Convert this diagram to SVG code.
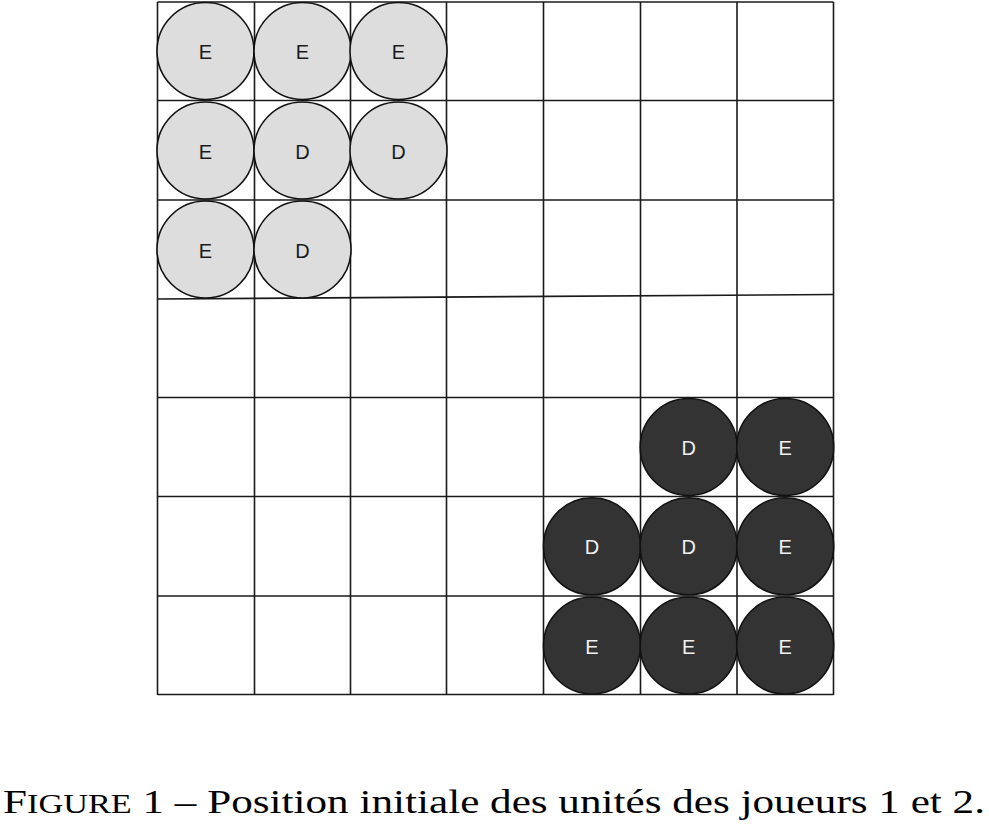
<svg xmlns="http://www.w3.org/2000/svg" width="989" height="829" viewBox="0 0 989 829">
<style>
.g{stroke:#1a1a1a;stroke-width:1.6;fill:none}
.p1{fill:#dddddd;stroke:#111;stroke-width:1.6}
.p2{fill:#333333;stroke:#111;stroke-width:1.6}
.t1{font-family:"Liberation Sans",Arial,sans-serif;font-size:20px;fill:#1a1a1a;text-anchor:middle;dominant-baseline:central}
.t2{font-family:"Liberation Sans",Arial,sans-serif;font-size:20px;fill:#f0f0f0;text-anchor:middle;dominant-baseline:central}
.cap{font-family:"Liberation Serif","Times New Roman",serif;font-size:34px;fill:#000}
</style>
<rect width="989" height="829" fill="#fff"/>
<g id="grid" class="g">
<line x1="157.5" y1="2" x2="157.5" y2="695"/>
<line x1="254.5" y1="2" x2="254.5" y2="695"/>
<line x1="350.5" y1="2" x2="350.5" y2="695"/>
<line x1="446.5" y1="2" x2="446.5" y2="695"/>
<line x1="543.5" y1="2" x2="543.5" y2="695"/>
<line x1="640.5" y1="2" x2="640.5" y2="695"/>
<line x1="737" y1="2" x2="737" y2="695"/>
<line x1="833.5" y1="2" x2="833.5" y2="695"/>
<line x1="157.5" y1="2" x2="833.5" y2="2"/>
<line x1="157.5" y1="100.5" x2="833.5" y2="100.5"/>
<line x1="157.5" y1="200" x2="833.5" y2="200"/>
<line x1="157.5" y1="299" x2="833.5" y2="294.5"/>
<line x1="157.5" y1="397.5" x2="833.5" y2="397.5"/>
<line x1="157.5" y1="496.5" x2="833.5" y2="496.5"/>
<line x1="157.5" y1="596" x2="833.5" y2="596"/>
<line x1="157.5" y1="694.5" x2="833.5" y2="694.5"/>
</g>
<g id="player1">
<g id="p1-1"><circle class="p1" cx="205.5" cy="51" r="48.5"/><text class="t1" x="205.5" y="52">E</text></g>
<g id="p1-2"><circle class="p1" cx="302.5" cy="51" r="48.5"/><text class="t1" x="302.5" y="52">E</text></g>
<g id="p1-3"><circle class="p1" cx="398.5" cy="51" r="48.5"/><text class="t1" x="398.5" y="52">E</text></g>
<g id="p1-4"><circle class="p1" cx="205.5" cy="150.5" r="48.5"/><text class="t1" x="205.5" y="151.5">E</text></g>
<g id="p1-5"><circle class="p1" cx="302.5" cy="150.5" r="48.5"/><text class="t1" x="302.5" y="151.5">D</text></g>
<g id="p1-6"><circle class="p1" cx="398.5" cy="150.5" r="48.5"/><text class="t1" x="398.5" y="151.5">D</text></g>
<g id="p1-7"><circle class="p1" cx="205.5" cy="249.5" r="48.5"/><text class="t1" x="205.5" y="250.5">E</text></g>
<g id="p1-8"><circle class="p1" cx="302.5" cy="249.5" r="48.5"/><text class="t1" x="302.5" y="250.5">D</text></g>
</g>
<g id="player2">
<g id="p2-1"><circle class="p2" cx="688.7" cy="447" r="48.5"/><text class="t2" x="688.7" y="448">D</text></g>
<g id="p2-2"><circle class="p2" cx="785.2" cy="447" r="48.5"/><text class="t2" x="785.2" y="448">E</text></g>
<g id="p2-3"><circle class="p2" cx="592" cy="546.3" r="48.5"/><text class="t2" x="592" y="547.3">D</text></g>
<g id="p2-4"><circle class="p2" cx="688.7" cy="546.3" r="48.5"/><text class="t2" x="688.7" y="547.3">D</text></g>
<g id="p2-5"><circle class="p2" cx="785.2" cy="546.3" r="48.5"/><text class="t2" x="785.2" y="547.3">E</text></g>
<g id="p2-6"><circle class="p2" cx="592" cy="645.5" r="48.5"/><text class="t2" x="592" y="646.5">E</text></g>
<g id="p2-7"><circle class="p2" cx="688.7" cy="645.5" r="48.5"/><text class="t2" x="688.7" y="646.5">E</text></g>
<g id="p2-8"><circle class="p2" cx="785.2" cy="645.5" r="48.5"/><text class="t2" x="785.2" y="646.5">E</text></g>
</g>
<text class="cap" x="3" y="813" textLength="982" lengthAdjust="spacingAndGlyphs">F<tspan font-size="27">IGURE</tspan> 1 – Position initiale des unités des joueurs 1 et 2.</text>
</svg>
